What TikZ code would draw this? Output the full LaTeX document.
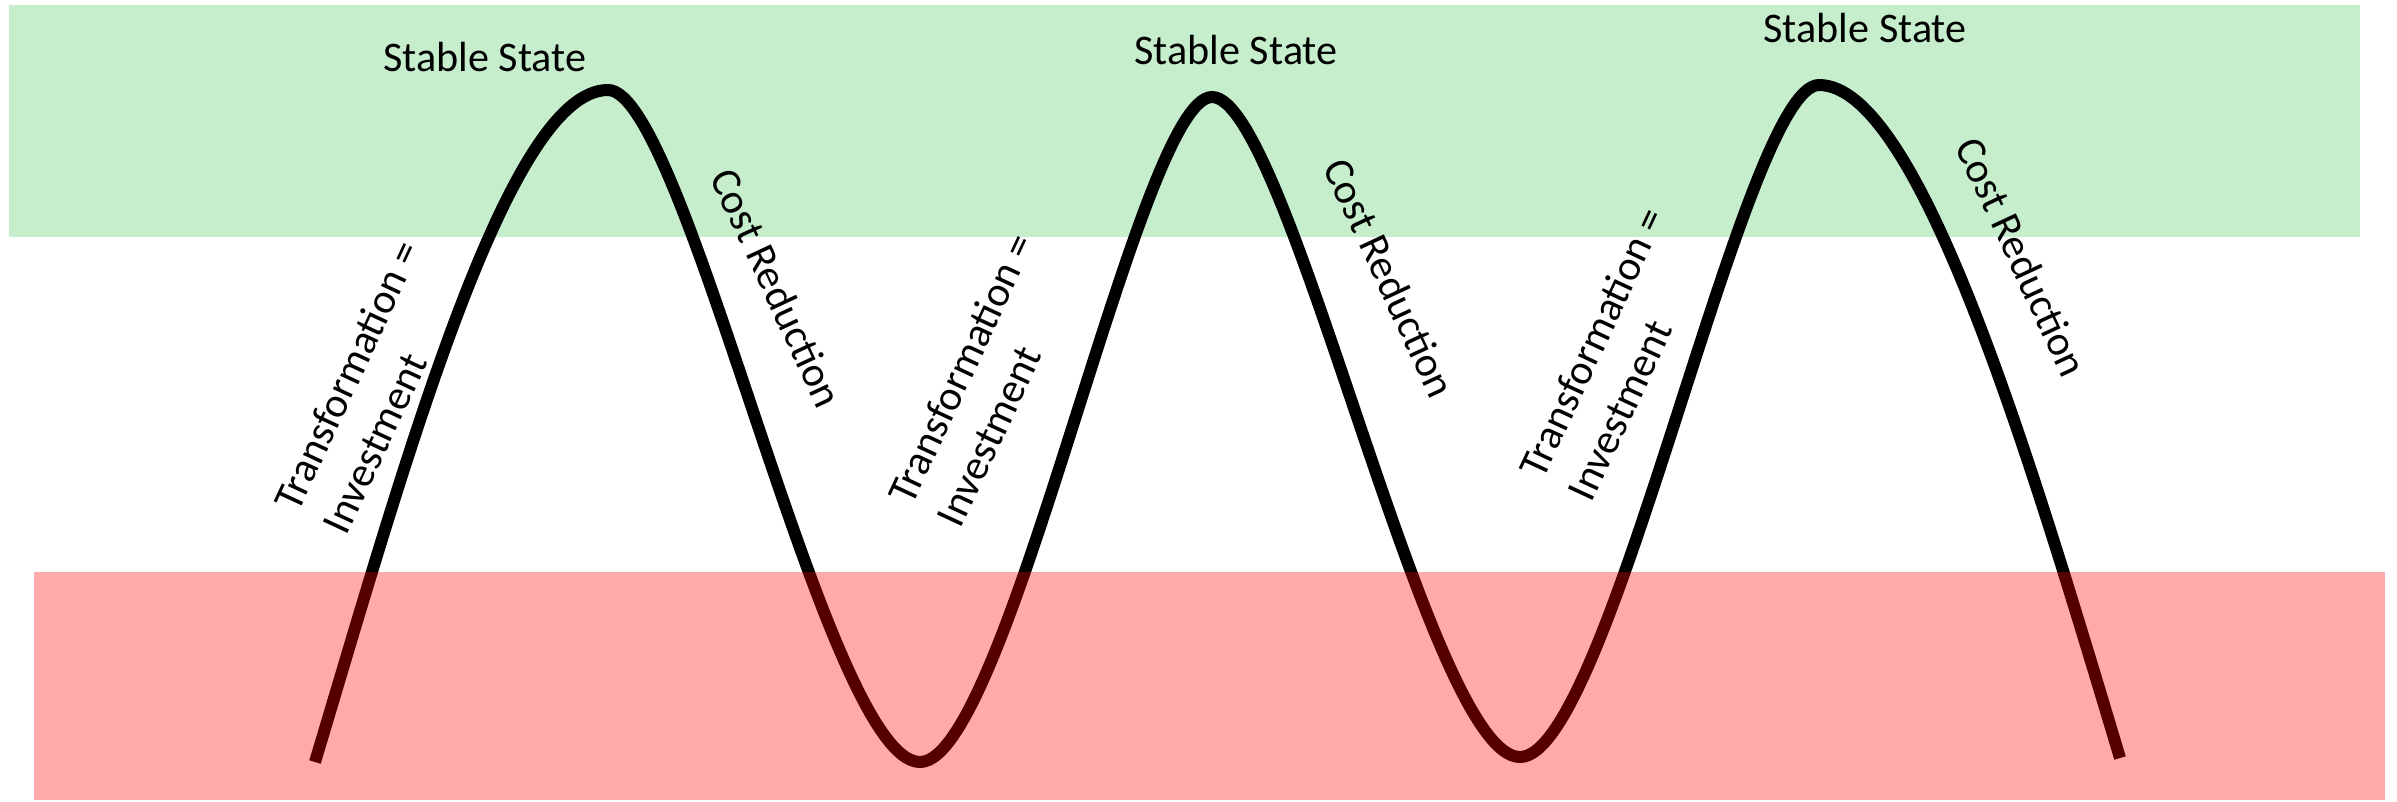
\documentclass[tikz,border=0pt]{standalone}
\usepackage{fontspec}
\setmainfont{Carlito}
\definecolor{stablegreen}{RGB}{198,238,204}
\definecolor{lossred}{RGB}{255,0,0}
\usetikzlibrary{positioning,calc}

\begin{document}
\begin{tikzpicture}[x=0.1mm,y=-0.1mm,
    wave/.style={line width=1.2mm,black},
    lbl/.style={font=\fontsize{12pt}{15.3pt}\selectfont,inner sep=0pt}]
    \useasboundingbox (0,0) rectangle (2397,801);

    % Stable band
    \fill[stablegreen] (9,5) rectangle (2360,237);

    % Turning points of the cycle
    \coordinate (start) at (315,762);
    \coordinate (peak1) at (608,90);
    \coordinate (trough1) at (920,762);
    \coordinate (peak2) at (1212,97);
    \coordinate (trough2) at (1520,757);
    \coordinate (peak3) at (1819,85);
    \coordinate (finish) at (2120,758);

    % Cycle curve
    \draw[wave] (start) .. controls (405,462) and (508,90) .. (peak1)
        .. controls (686,90) and (826,762) .. (trough1)
        .. controls (1008,762) and (1139,97) .. (peak2)
        .. controls (1289,97) and (1428,757) .. (trough2)
        .. controls (1610,757) and (1744,85) .. (peak3)
        .. controls (1919,85) and (2030,458) .. (finish);

    % Loss band, over the curve
    \fill[lossred,opacity=0.33] (34,572) rectangle (2385,800);

    % Labels
    \node[lbl] (stable1) at (485,57) {Stable State};
    \node[lbl] (stable2) at (1236,50) {Stable State};
    \node[lbl] (stable3) at (1865,28) {Stable State};

    \node[lbl,rotate=65,align=left] (invest1) at (371,387) {Transformation =\\Investment};
    \node[lbl,rotate=65,align=left] (invest2) at (985,380) {Transformation =\\Investment};
    \node[lbl,rotate=65,align=left] (invest3) at (1616,354) {Transformation =\\Investment};

    \node[lbl,rotate=-65] (cost1) at (777,288) {Cost Reduction};
    \node[lbl,rotate=-65] (cost2) at (1390,278) {Cost Reduction};
    \node[lbl,rotate=-65] (cost3) at (2022,257) {Cost Reduction};
\end{tikzpicture}
\end{document}
